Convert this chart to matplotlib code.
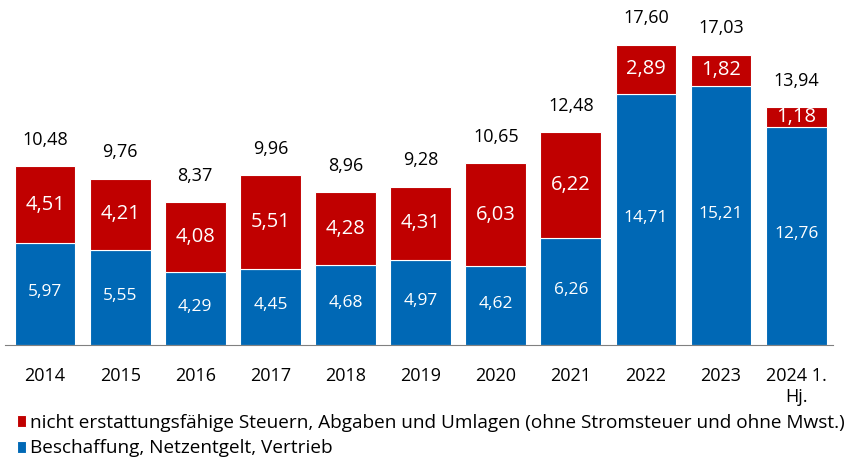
import matplotlib.pyplot as plt

plt.rcParams['font.family'] = ['Open Sans', 'DejaVu Sans']

years = ["2014", "2015", "2016", "2017", "2018", "2019", "2020", "2021", "2022", "2023", "2024 1.\nHj."]
blue_vals = [5.97, 5.55, 4.29, 4.45, 4.68, 4.97, 4.62, 6.26, 14.71, 15.21, 12.76]
red_vals = [4.51, 4.21, 4.08, 5.51, 4.28, 4.31, 6.03, 6.22, 2.89, 1.82, 1.18]
totals = [10.48, 9.76, 8.37, 9.96, 8.96, 9.28, 10.65, 12.48, 17.60, 17.03, 13.94]

red_name = "nicht erstattungsfähige Steuern, Abgaben und Umlagen (ohne Stromsteuer und ohne Mwst.)"
blue_name = "Beschaffung, Netzentgelt, Vertrieb"

RED = "#C00000"
BLUE = "#0068B5"

def fmt(v):
    return ("%.2f" % v).replace(".", ",")

fig = plt.figure(figsize=(8.45, 4.65), dpi=100)
ax = fig.add_axes([0.0, 120 / 465, 1.0, 345 / 465])

x = list(range(len(years)))
w = 0.81
ax.bar(x, blue_vals, w, color=BLUE, edgecolor="white", linewidth=0.8, label=blue_name)
ax.bar(x, red_vals, w, bottom=blue_vals, color=RED, edgecolor="white", linewidth=0.8, label=red_name)

for i in x:
    ax.text(i, blue_vals[i] / 2 + 0.1, fmt(blue_vals[i]), ha="center", va="center", color="white", fontsize=12.5)
    ax.text(i, blue_vals[i] + red_vals[i] / 2, fmt(red_vals[i]), ha="center", va="center", color="white", fontsize=14.5)
    ax.text(i, totals[i] + 1.55, fmt(totals[i]), ha="center", va="center", color="black", fontsize=13)

ax.set_xlim(-0.6, 10.65)
ax.set_ylim(0, 20.23)
ax.set_xticks(x)
ax.set_xticklabels(years, fontsize=13)
ax.tick_params(axis="x", length=0, pad=16)
ax.set_yticks([])
for s in ["top", "right", "left"]:
    ax.spines[s].set_visible(False)
ax.spines["bottom"].set_color("#808080")
ax.spines["bottom"].set_bounds(-0.53, 10.49)

h, l = ax.get_legend_handles_labels()
fig.legend(h[::-1], l[::-1], loc="lower left", bbox_to_anchor=(0.004, -0.012), frameon=False,
           fontsize=13.7, handlelength=0.5, handleheight=0.6, handletextpad=0.2, labelspacing=0.4,
           borderaxespad=0.3)

fig.savefig("out.png", dpi=100)
